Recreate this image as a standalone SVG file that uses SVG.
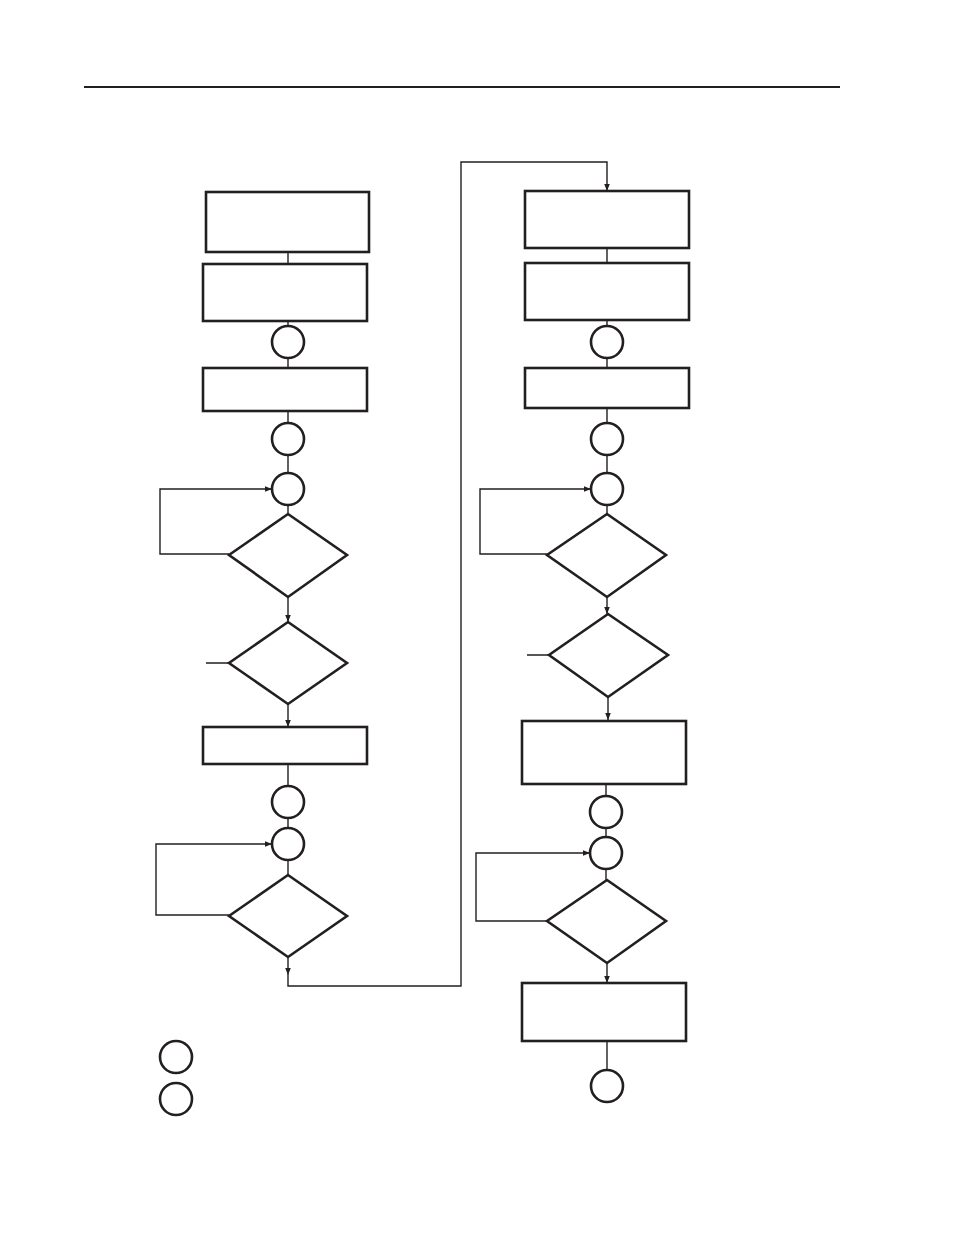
<svg xmlns="http://www.w3.org/2000/svg" width="954" height="1235" viewBox="0 0 954 1235">
<style>
.n{fill:#fff;stroke:#231f20;stroke-width:2.6}
.c{fill:none;stroke:#231f20;stroke-width:1.4}
</style>
<defs><marker id="a" viewBox="0 0 10 10" refX="10" refY="5" markerWidth="7" markerHeight="7" markerUnits="userSpaceOnUse" orient="auto"><path d="M0,1 L10,5 L0,9 z" fill="#231f20"/></marker></defs>
<rect width="954" height="1235" fill="#fff"/>
<line x1="84" y1="87" x2="840" y2="87" stroke="#231f20" stroke-width="2"/>
<g id="connectors" class="c">
<path d="M288,252V264M288,321V326M288,358V368M288,411V423M288,455V473M288,505V514"/>
<path d="M288,597V622" marker-end="url(#a)"/>
<path d="M288,704V727" marker-end="url(#a)"/>
<path d="M206,663H229M288,764V786M288,818V828M288,860V875"/>
<path d="M229,554H160V489H272" marker-end="url(#a)"/>
<path d="M229,915H156V844H272" marker-end="url(#a)"/>
<path d="M288,957V975" marker-end="url(#a)"/>
<path d="M288,975V986H461V162H607V191" marker-end="url(#a)"/>
<path d="M607,248V263M607,320V326M607,358V368M607,408V423M607,455V473M607,505V514"/>
<path d="M607,597V614" marker-end="url(#a)"/>
<path d="M608,697V720" marker-end="url(#a)"/>
<path d="M527,655H549M606,784V796M606,828V837M606,869V880"/>
<path d="M547,554H480V489H591" marker-end="url(#a)"/>
<path d="M547,921H476V853H590" marker-end="url(#a)"/>
<path d="M607,963V983" marker-end="url(#a)"/>
<path d="M607,1041V1070"/>
</g>
<g id="b1"><rect class="n" x="206" y="192" width="163" height="60"/></g>
<g id="b2"><rect class="n" x="203" y="264" width="164" height="57"/></g>
<g id="c1"><circle class="n" cx="288" cy="342" r="16"/></g>
<g id="b3"><rect class="n" x="203" y="368" width="164" height="43"/></g>
<g id="c2"><circle class="n" cx="288" cy="439" r="16"/></g>
<g id="c3"><circle class="n" cx="288" cy="489" r="16"/></g>
<g id="d1"><polygon class="n" points="288,514 347,555 288,597 229,555"/></g>
<g id="d2"><polygon class="n" points="288,622 347,663 288,704 229,663"/></g>
<g id="b4"><rect class="n" x="203" y="727" width="164" height="37"/></g>
<g id="c4"><circle class="n" cx="288" cy="802" r="16"/></g>
<g id="c5"><circle class="n" cx="288" cy="844" r="16"/></g>
<g id="d3"><polygon class="n" points="288,875 347,916 288,957 229,916"/></g>
<g id="b5"><rect class="n" x="525" y="191" width="164" height="57"/></g>
<g id="b6"><rect class="n" x="525" y="263" width="164" height="57"/></g>
<g id="c6"><circle class="n" cx="607" cy="342" r="16"/></g>
<g id="b7"><rect class="n" x="525" y="368" width="164" height="40"/></g>
<g id="c7"><circle class="n" cx="607" cy="439" r="16"/></g>
<g id="c8"><circle class="n" cx="607" cy="489" r="16"/></g>
<g id="d4"><polygon class="n" points="607,514 666,555 607,597 547,555"/></g>
<g id="d5"><polygon class="n" points="608,614 668,655 608,697 549,655"/></g>
<g id="b8"><rect class="n" x="522" y="721" width="164" height="63"/></g>
<g id="c9"><circle class="n" cx="606" cy="812" r="16"/></g>
<g id="c10"><circle class="n" cx="606" cy="853" r="16"/></g>
<g id="d6"><polygon class="n" points="607,880 666,921 607,963 547,921"/></g>
<g id="b9"><rect class="n" x="522" y="983" width="164" height="58"/></g>
<g id="c11"><circle class="n" cx="607" cy="1086" r="16"/></g>
<g id="l1"><circle class="n" cx="176" cy="1057" r="16"/></g>
<g id="l2"><circle class="n" cx="176" cy="1099" r="16"/></g>
</svg>
